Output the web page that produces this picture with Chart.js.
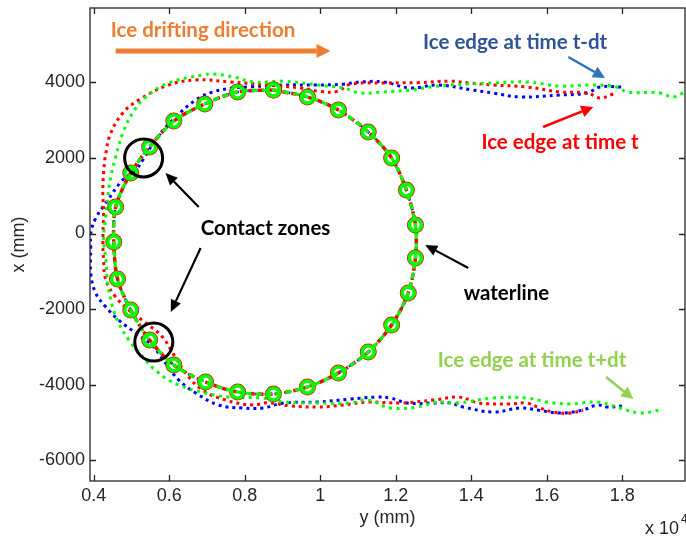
<!DOCTYPE html>
<html>
<head>
<meta charset="utf-8">
<script src="https://cdn.jsdelivr.net/npm/chart.js@4.4.0/dist/chart.umd.min.js"></script>
<style>
  html, body { margin: 0; padding: 0; background: #fff; }
</style>
</head>
<body>
<canvas id="edgeChart" width="686" height="538"></canvas>
<script>
// horizontal: y in units of 1e4 mm, vertical: x in mm
const xTicks = [0.4, 0.6, 0.8, 1.0, 1.2, 1.4, 1.6, 1.8];
const xTickLabels = ['0.4', '0.6', '0.8', '1', '1.2', '1.4', '1.6', '1.8'];
const yTicks = [-6000, -4000, -2000, 0, 2000, 4000];
const yTickLabels = ['-6000', '-4000', '-2000', '0', '2000', '4000'];

// waterline of the structure (closed)
const waterY = [0.876, 0.966, 1.048, 1.127, 1.189, 1.228, 1.252, 1.252, 1.233, 1.189, 1.127, 1.048, 0.966, 0.876,
  0.781, 0.696, 0.612, 0.548, 0.498, 0.463, 0.453, 0.458, 0.498, 0.548, 0.612, 0.694, 0.781, 0.876];
const waterX = [3796, 3612, 3267, 2685, 1997, 1150, 225, -648, -1574, -2420, -3135, -3690, -4061, -4246,
  -4193, -3929, -3479, -2817, -2024, -1204, -225, 701, 1600, 2290, 2976, 3426, 3745, 3796];

// ice edge at t-dt
const prevY = [1.797, 1.741, 1.707, 1.635, 1.53, 1.458, 1.40, 1.31, 1.239, 1.167, 1.106, 1.061, 0.993, 0.903, 0.815, 0.77,
  0.715, 0.67, 0.617, 0.569, 0.53, 0.511, 0.475, 0.435, 0.405, 0.392, 0.392, 0.392, 0.405, 0.432, 0.466, 0.511, 0.556,
  0.59, 0.625, 0.67, 0.731, 0.794, 0.847, 0.903, 0.993, 1.08, 1.151, 1.186, 1.231, 1.3, 1.344, 1.379, 1.458, 1.53,
  1.575, 1.635, 1.696, 1.733, 1.76, 1.799];
const prevX = [3876, 3876, 3717, 3664, 3612, 3717, 3800, 3929, 3850, 4009, 4009, 3950, 3929, 3929, 3880, 3850,
  3744, 3532, 3082, 2553, 1945, 1680, 1400, 850, 400, 0, -357, -1045, -1574, -1945, -2289, -2633, -2977,
  -3426, -3876, -4220, -4538, -4617, -4617, -4485, -4459, -4380, -4327, -4353, -4485, -4485, -4485, -4591, -4723, -4617,
  -4670, -4750, -4670, -4538, -4591, -4564];

// ice edge at t
const nowY = [1.776, 1.741, 1.707, 1.635, 1.548, 1.458, 1.397, 1.344, 1.257, 1.167, 1.08, 1.045, 1.0, 0.948, 0.86, 0.762,
  0.67, 0.598, 0.519, 0.477, 0.445, 0.432, 0.426, 0.424, 0.426, 0.424, 0.426, 0.432, 0.458, 0.493, 0.538, 0.582,
  0.609, 0.643, 0.688, 0.749, 0.82, 0.86, 0.921, 0.993, 1.061, 1.125, 1.212, 1.3, 1.363, 1.397, 1.416, 1.503, 1.548,
  1.575, 1.617, 1.662, 1.696];
const nowX = [3691, 3585, 3717, 3744, 3876, 3929, 3980, 4030, 3990, 3982, 3950, 3760, 3760, 3850, 3929, 4009,
  4062, 3929, 3532, 3188, 2659, 2130, 1601, 1072, 542, -200, -701, -1230, -1680, -2024, -2368, -2739,
  -3161, -3691, -4141, -4406, -4538, -4480, -4560, -4591, -4538, -4459, -4485, -4406, -4327, -4406, -4485, -4511, -4485,
  -4591, -4723, -4750, -4670];

// ice edge at t+dt
const nextY = [1.961, 1.934, 1.9, 1.813, 1.786, 1.723, 1.635, 1.548, 1.458, 1.397, 1.344, 1.292, 1.239, 1.167, 1.106,
  1.061, 0.993, 0.903, 0.823, 0.77, 0.717, 0.688, 0.598, 0.538, 0.503, 0.477, 0.458, 0.445, 0.437, 0.432, 0.426,
  0.432, 0.437, 0.45, 0.466, 0.493, 0.53, 0.572, 0.625, 0.696, 0.757, 0.847, 0.903, 0.993, 1.08, 1.125, 1.186,
  1.257, 1.31, 1.363, 1.458, 1.548, 1.601, 1.662, 1.733, 1.794, 1.847, 1.9];
const nextX = [3717, 3612, 3717, 3744, 3876, 3929, 3902, 4009, 3982, 3955, 3929, 3876, 3797, 3744, 3717,
  3850, 3930, 4030, 4009, 4141, 4221, 4194, 3982, 3612, 3188, 2659, 2024, 1495, 966, 437, -93,
  -701, -1310, -1945, -2368, -2818, -3268, -3691, -4009, -4220, -4327, -4353, -4459, -4485, -4485, -4406, -4617,
  -4591, -4459, -4485, -4353, -4353, -4459, -4511, -4459, -4617, -4750, -4670];

const pts = (ys, xs) => ys.map((v, i) => ({ x: v, y: xs[i] }));

// text, arrows and rings drawn over the plot, placed in axis units
const notes = [
  { text: 'Ice drifting direction', at: [0.445, 5384], color: '#ED7D31', align: 'left' },
  { text: 'Ice edge at time t-dt', at: [1.516, 5067], color: '#2F5597' },
  { text: 'Ice edge at time t', at: [1.635, 2421], color: '#FF0000' },
  { text: 'Contact zones', at: [0.855, 146], color: '#000000' },
  { text: 'waterline', at: [1.493, -1574], color: '#000000' },
  { text: 'Ice edge at time t+dt', at: [1.561, -3347], color: '#92D050' }
];
const arrows = [
  { from: [0.458, 4829], to: [1.027, 4829], color: '#ED7D31', width: 5, head: 14, half: 7 },
  { from: [1.657, 4670], to: [1.754, 4115], color: '#2E75B6', width: 2.5, head: 12, half: 6 },
  { from: [1.59, 2818], to: [1.723, 3347], color: '#FF0000', width: 2.5, head: 12, half: 6 },
  { from: [0.678, 701], to: [0.59, 1601], color: '#000000', width: 2.2, head: 12, half: 5.5 },
  { from: [0.683, -384], to: [0.604, -2077], color: '#000000', width: 2.2, head: 12, half: 5.5 },
  { from: [1.392, -913], to: [1.278, -304], color: '#000000', width: 2.2, head: 12, half: 5.5 },
  { from: [1.757, -3797], to: [1.829, -4379], color: '#92D050', width: 2.5, head: 12, half: 6 }
];
const rings = [[0.532, 1998], [0.559, -2871]];

const overlay = {
  id: 'overlay',
  afterDraw(chart) {
    const { ctx, chartArea: a, scales: { x, y } } = chart;
    const P = (p) => [x.getPixelForValue(p[0]), y.getPixelForValue(p[1])];
    ctx.save();

    // axes box with inward ticks
    ctx.strokeStyle = '#262626';
    ctx.lineWidth = 1.3;
    ctx.strokeRect(a.left, a.top, a.right - a.left, a.bottom - a.top);
    ctx.beginPath();
    xTicks.forEach(v => {
      const px = Math.round(x.getPixelForValue(v)) + 0.5;
      ctx.moveTo(px, a.bottom); ctx.lineTo(px, a.bottom - 6);
      ctx.moveTo(px, a.top); ctx.lineTo(px, a.top + 6);
    });
    yTicks.forEach(v => {
      const py = Math.round(y.getPixelForValue(v)) + 0.5;
      ctx.moveTo(a.left, py); ctx.lineTo(a.left + 6, py);
      ctx.moveTo(a.right, py); ctx.lineTo(a.right - 6, py);
    });
    ctx.stroke();

    // exponent of the horizontal axis
    ctx.fillStyle = '#262626';
    ctx.font = '18px "Liberation Sans", Arial, sans-serif';
    ctx.textBaseline = 'alphabetic';
    ctx.textAlign = 'left';
    ctx.fillText('x 10', 645, 534);
    ctx.font = '12px "Liberation Sans", Arial, sans-serif';
    ctx.fillText('4', 681, 523);

    // rings around the contact zones
    ctx.strokeStyle = '#000';
    ctx.lineWidth = 3;
    rings.forEach(r => {
      const [cx, cy] = P(r);
      ctx.beginPath();
      ctx.arc(cx, cy, 19, 0, Math.PI * 2);
      ctx.stroke();
    });

    // arrows
    arrows.forEach(ar => {
      const [x1, y1] = P(ar.from);
      const [x2, y2] = P(ar.to);
      const ang = Math.atan2(y2 - y1, x2 - x1);
      const bx = x2 - ar.head * Math.cos(ang), by = y2 - ar.head * Math.sin(ang);
      ctx.strokeStyle = ar.color;
      ctx.fillStyle = ar.color;
      ctx.lineWidth = ar.width;
      ctx.beginPath();
      ctx.moveTo(x1, y1); ctx.lineTo(bx, by);
      ctx.stroke();
      ctx.beginPath();
      ctx.moveTo(x2, y2);
      ctx.lineTo(bx + ar.half * Math.sin(ang), by - ar.half * Math.cos(ang));
      ctx.lineTo(bx - ar.half * Math.sin(ang), by + ar.half * Math.cos(ang));
      ctx.closePath();
      ctx.fill();
    });

    // labels
    ctx.font = 'bold 20.5px Lato, "Open Sans", sans-serif';
    ctx.textBaseline = 'middle';
    notes.forEach(n => {
      const [tx, ty] = P(n.at);
      ctx.fillStyle = n.color;
      ctx.textAlign = n.align || 'center';
      ctx.fillText(n.text, tx, ty);
    });
    ctx.restore();
  }
};

const tickFont = { family: '"Liberation Sans", Arial, sans-serif', size: 18 };

new Chart(document.getElementById('edgeChart'), {
  type: 'scatter',
  data: {
    datasets: [
      {
        label: 'waterline (t+dt)', data: pts(waterY, waterX), showLine: true, order: 0,
        borderColor: '#00FF00', borderWidth: 3, borderDash: [6, 4], tension: 0.3,
        pointRadius: 6, pointBorderWidth: 3.5, pointBorderColor: '#00FF00', pointBackgroundColor: 'rgba(0,0,0,0)'
      },
      {
        label: 'waterline (t)', data: pts(waterY, waterX), showLine: true, order: 1,
        borderColor: '#FF0000', borderWidth: 3.5, borderDash: [6, 3], tension: 0.3,
        pointRadius: 7.5, pointBorderWidth: 2, pointBorderColor: '#FF0000', pointBackgroundColor: 'rgba(0,0,0,0)'
      },
      {
        label: 'waterline (t-dt)', data: pts(waterY, waterX), showLine: true, order: 2,
        borderColor: '#0000FF', borderWidth: 2.5, borderDash: [2, 3], tension: 0.3, pointRadius: 0
      },
      {
        label: 'Ice edge at time t+dt', data: pts(nextY, nextX), showLine: true, order: 3,
        borderColor: '#00FF00', borderWidth: 3, borderDash: [3, 4.5], tension: 0.4, pointRadius: 0
      },
      {
        label: 'Ice edge at time t', data: pts(nowY, nowX), showLine: true, order: 4,
        borderColor: '#FF0000', borderWidth: 3, borderDash: [3, 4], tension: 0.4, pointRadius: 0
      },
      {
        label: 'Ice edge at time t-dt', data: pts(prevY, prevX), showLine: true, order: 5,
        borderColor: '#0000FF', borderWidth: 3, borderDash: [3, 4], tension: 0.4, pointRadius: 0
      }
    ]
  },
  options: {
    responsive: false,
    animation: false,
    layout: { autoPadding: false, padding: { top: 8, right: 1, left: 0, bottom: 0 } },
    plugins: { legend: { display: false }, tooltip: { enabled: false } },
    scales: {
      x: {
        type: 'linear', min: 0.39, max: 1.966,
        afterBuildTicks: s => { s.ticks = xTicks.map(v => ({ value: v })); },
        afterFit: s => { s.height = 57; s.paddingLeft = 0; s.paddingRight = 0; },
        grid: { display: false, drawTicks: false },
        border: { display: false },
        ticks: { font: tickFont, color: '#262626', padding: 4, maxRotation: 0, callback: (v, i) => xTickLabels[i] },
        title: { display: true, text: 'y (mm)', font: tickFont, color: '#262626', padding: { top: 0, bottom: 9 } }
      },
      y: {
        type: 'linear', min: -6548, max: 5966,
        afterBuildTicks: s => { s.ticks = yTicks.map(v => ({ value: v })); },
        afterFit: s => { s.width = 90; s.paddingTop = 0; s.paddingBottom = 0; },
        grid: { display: false, drawTicks: false },
        border: { display: false },
        ticks: { font: tickFont, color: '#262626', padding: 5, callback: (v, i) => yTickLabels[i] },
        title: { display: true, text: 'x (mm)', font: tickFont, color: '#262626', padding: { top: 8, bottom: 0 } }
      }
    }
  },
  plugins: [overlay]
});
</script>
</body>
</html>
